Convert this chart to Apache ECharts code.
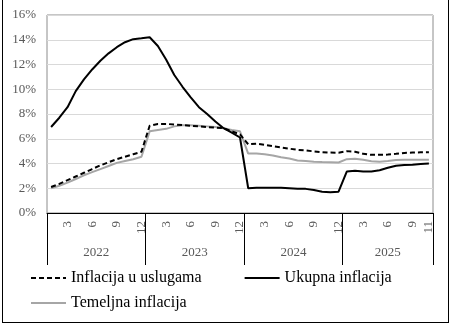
<!DOCTYPE html>
<html>
<head>
<meta charset="utf-8">
<script src="https://cdn.jsdelivr.net/npm/echarts@6/dist/echarts.min.js"></script>
<style>
  html, body { margin: 0; padding: 0; background: #fff; }
  #wrap { position: relative; width: 450px; height: 326px; overflow: hidden; }
  #chart { position: absolute; left: 0; top: 0; width: 450px; height: 326px; }
  #frame { position: absolute; left: 2px; top: -1px; width: 447px; height: 324px;
           box-sizing: border-box; border: 1px solid #000; pointer-events: none; }
</style>
</head>
<body>
<div id="wrap"><div id="chart"></div><div id="frame"></div></div>
<script>
// Monthly year-over-year rates, %, January 2022 - November 2025
const years = [2022, 2023, 2024, 2025];
const monthsPerYear = [12, 12, 12, 11];

const inflacijaUsluge = [
  2.10, 2.35, 2.65, 2.95, 3.25, 3.55, 3.85, 4.10, 4.35, 4.55, 4.75, 4.95,
  7.05, 7.20, 7.20, 7.15, 7.10, 7.05, 7.00, 6.95, 6.90, 6.85, 6.60, 6.35,
  5.55, 5.60, 5.50, 5.40, 5.30, 5.20, 5.10, 5.05, 4.98, 4.92, 4.88, 4.87,
  5.00, 4.95, 4.78, 4.70, 4.70, 4.72, 4.78, 4.85, 4.88, 4.90, 4.90
];
const ukupnaInflacija = [
  6.95, 7.70, 8.55, 9.85, 10.80, 11.60, 12.30, 12.90, 13.40, 13.80, 14.05, 14.12,
  14.20, 13.50, 12.40, 11.15, 10.20, 9.35, 8.55, 8.00, 7.40, 6.85, 6.50, 6.10,
  2.00, 2.05, 2.05, 2.05, 2.05, 2.00, 1.95, 1.95, 1.85, 1.72, 1.67, 1.72,
  3.35, 3.42, 3.35, 3.35, 3.45, 3.65, 3.82, 3.88, 3.90, 3.96, 4.00
];
const temeljnaInflacija = [
  2.00, 2.20, 2.45, 2.75, 3.05, 3.30, 3.55, 3.80, 4.05, 4.20, 4.35, 4.55,
  6.60, 6.70, 6.80, 7.00, 7.10, 7.10, 7.05, 7.00, 6.95, 6.85, 6.70, 6.60,
  4.80, 4.80, 4.75, 4.65, 4.50, 4.40, 4.25, 4.20, 4.15, 4.12, 4.10, 4.08,
  4.35, 4.38, 4.30, 4.18, 4.15, 4.20, 4.28, 4.30, 4.30, 4.30, 4.30
];

const yTicks = { min: 0, max: 16, step: 2 };

// category list "YYYY-M" and the year-block centres on a month scale
const categories = [];
const yearCentres = {};
let start = 0;
years.forEach((y, k) => {
  for (let m = 1; m <= monthsPerYear[k]; m++) categories.push(y + '-' + m);
  yearCentres[start + monthsPerYear[k] / 2] = String(y);
  start += monthsPerYear[k];
});
const totalMonths = categories.length;
const lastIndex = totalMonths - 1;

const serif = "'Liberation Serif', 'Times New Roman', serif";
const axisGray = '#595959';

const legendBase = {
  orient: 'horizontal', padding: 0,
  itemWidth: 35, itemHeight: 16,
  itemStyle: { opacity: 0 },
  textStyle: { fontFamily: serif, fontSize: 16, color: '#000' }
};

const chart = echarts.init(document.getElementById('chart'), null, { renderer: 'canvas' });

chart.setOption({
  backgroundColor: '#fff',
  animation: false,
  grid: {
    left: 47, right: 17, top: 15, bottom: 113,
    show: true, borderColor: '#8c8c8c', borderWidth: 1, backgroundColor: 'transparent'
  },
  legend: [
    Object.assign({}, legendBase, {
      data: ['Inflacija u uslugama', 'Ukupna inflacija'],
      left: 30, top: 270, itemGap: 42
    }),
    Object.assign({}, legendBase, {
      data: ['Temeljna inflacija'],
      left: 30, top: 295
    })
  ],
  xAxis: [
    {
      // months
      type: 'category', data: categories, boundaryGap: true, position: 'bottom',
      axisLine: { show: true, lineStyle: { color: '#000', width: 1 } },
      axisTick: { show: false },
      splitLine: { show: false },
      axisLabel: {
        rotate: 90, margin: 8, fontFamily: serif, fontSize: 13, color: axisGray,
        interval: (i, v) => { const m = +v.split('-')[1]; return m % 3 === 0 || i === lastIndex; },
        formatter: v => v.split('-')[1]
      }
    },
    {
      // year separators
      type: 'value', min: 0, max: totalMonths, interval: 12, position: 'bottom',
      axisLine: { show: false },
      axisTick: { show: true, length: 52, lineStyle: { color: '#000', width: 1 } },
      axisLabel: { show: false },
      splitLine: { show: false }
    },
    {
      // year labels, centred in each block
      type: 'value', min: 0, max: totalMonths, interval: 0.5, position: 'bottom',
      axisLine: { show: false }, axisTick: { show: false }, splitLine: { show: false },
      axisLabel: {
        margin: 33, fontFamily: serif, fontSize: 13, color: axisGray,
        showMinLabel: true, showMaxLabel: true,
        formatter: v => yearCentres[v] || ''
      }
    }
  ],
  yAxis: {
    type: 'value', min: yTicks.min, max: yTicks.max, interval: yTicks.step,
    axisLine: { show: false }, axisTick: { show: false },
    splitLine: { show: true, lineStyle: { color: '#d9d9d9', width: 1 } },
    axisLabel: { margin: 11, fontFamily: serif, fontSize: 13, color: axisGray, formatter: '{value}%' }
  },
  series: [
    {
      name: 'Inflacija u uslugama', type: 'line', data: inflacijaUsluge,
      xAxisIndex: 0, symbol: 'none', z: 3,
      lineStyle: { color: '#000', width: 2, type: [5, 3] },
      itemStyle: { color: '#000' }
    },
    {
      name: 'Ukupna inflacija', type: 'line', data: ukupnaInflacija,
      xAxisIndex: 0, symbol: 'none', z: 4,
      lineStyle: { color: '#000', width: 2 },
      itemStyle: { color: '#000' }
    },
    {
      name: 'Temeljna inflacija', type: 'line', data: temeljnaInflacija,
      xAxisIndex: 0, symbol: 'none', z: 2,
      lineStyle: { color: '#a6a6a6', width: 2 },
      itemStyle: { color: '#a6a6a6' }
    }
  ]
});
</script>
</body>
</html>
